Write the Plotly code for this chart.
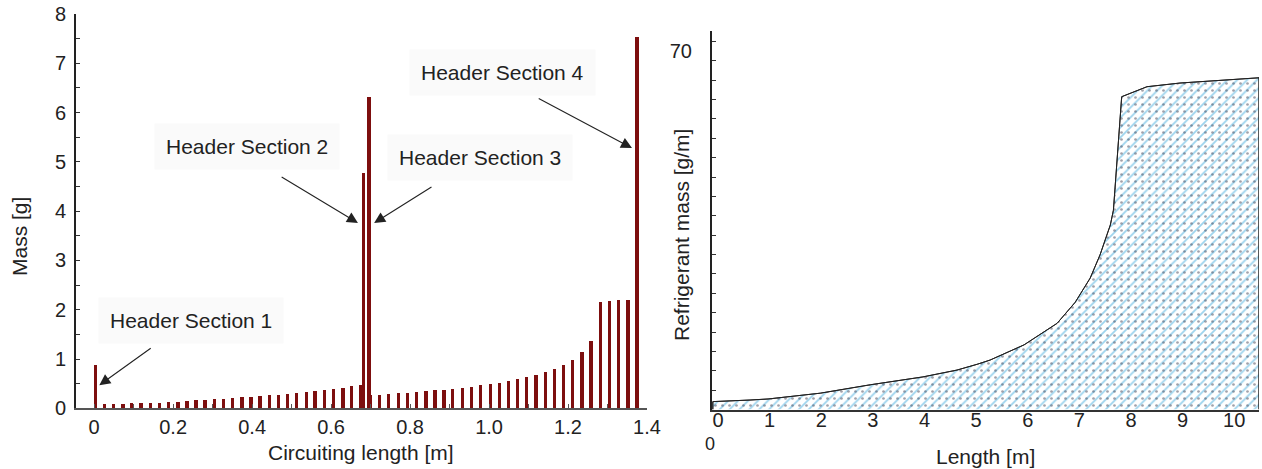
import plotly.graph_objects as go

# ---- Left chart: mass per element along circuit ----
circ_len = [0.003, 0.026, 0.049, 0.073, 0.095, 0.119, 0.142, 0.165, 0.188, 0.212,
            0.235, 0.258, 0.281, 0.305, 0.327, 0.351, 0.374, 0.397, 0.420, 0.444,
            0.467, 0.490, 0.513, 0.537, 0.559, 0.583, 0.606, 0.630, 0.652, 0.676,
            0.682, 0.696, 0.700,
            0.722, 0.746, 0.770, 0.793, 0.817, 0.840, 0.863, 0.886, 0.908, 0.932,
            0.955, 0.979, 1.003, 1.026, 1.050, 1.072, 1.095, 1.119, 1.143, 1.165,
            1.189, 1.212, 1.235, 1.258, 1.282, 1.305, 1.328, 1.352, 1.375]
mass_g = [0.87, 0.08, 0.08, 0.09, 0.10, 0.10, 0.11, 0.11, 0.12, 0.13,
          0.15, 0.16, 0.17, 0.18, 0.19, 0.21, 0.22, 0.23, 0.25, 0.26,
          0.28, 0.29, 0.31, 0.33, 0.35, 0.37, 0.39, 0.41, 0.45, 0.47,
          4.78, 6.32, 0.27,
          0.28, 0.29, 0.31, 0.32, 0.33, 0.35, 0.37, 0.38, 0.40, 0.41,
          0.44, 0.47, 0.49, 0.52, 0.56, 0.59, 0.63, 0.68, 0.74, 0.80,
          0.88, 0.99, 1.14, 1.37, 2.16, 2.18, 2.19, 2.20, 7.53]
left_xticks = [0, 0.2, 0.4, 0.6, 0.8, 1.0, 1.2, 1.4]
left_xticktext = ["0", "0.2", "0.4", "0.6", "0.8", "1.0", "1.2", "1.4"]
left_yticks = [0, 1, 2, 3, 4, 5, 6, 7, 8]

# header annotations: label, text pos (x, y), arrow tail (x, y), arrow tip (x, y)
header_labels = ["Header Section 1", "Header Section 2", "Header Section 3", "Header Section 4"]
header_text_xy = [(0.245, 1.79), (0.387, 5.32), (0.977, 5.08), (1.033, 6.82)]
header_tail_xy = [(0.147, 1.24), (0.471, 4.71), (0.858, 4.51), (1.122, 6.30)]
header_tip_xy = [(0.013, 0.47), (0.668, 3.76), (0.709, 3.76), (1.362, 5.28)]

# ---- Right chart: refrigerant mass distribution ----
length_m = [-0.1, -0.1, 0.62, 0.97, 1.98, 2.95, 3.97, 4.63, 5.02, 5.27, 5.93,
            6.38, 6.57, 6.92, 7.21, 7.40, 7.60, 7.66, 7.75, 7.82, 8.31, 8.95,
            10.48, 10.48]
refr_mass = [0.0, 1.5, 1.8, 2.0, 3.1, 4.7, 6.2, 7.5, 8.6, 9.4, 12.3,
             15.1, 16.4, 20.4, 25.0, 29.4, 35.1, 37.9, 49.3, 59.5, 61.4, 62.1,
             63.1, 0.0]
right_xticks = [0, 1, 2, 3, 4, 5, 6, 7, 8, 9, 10]
right_yticks = [70]

FONT = "Liberation Sans, Arial, Helvetica, sans-serif"
TXT = "#222222"
BAR = "#7d0e0e"

fig = go.Figure()

fig.add_trace(go.Bar(x=circ_len, y=mass_g, width=0.0085,
                     marker=dict(color=BAR, line=dict(width=0)),
                     xaxis="x", yaxis="y", showlegend=False))

fig.add_trace(go.Scatter(x=length_m, y=refr_mass, mode="lines", fill="toself",
                         line=dict(color="#222222", width=1),
                         fillcolor="rgba(0,0,0,0)",
                         fillpattern=dict(shape="/", fgcolor="#3aa7db", bgcolor="white",
                                          size=7, solidity=0.25),
                         xaxis="x2", yaxis="y2", showlegend=False))
fig.add_trace(go.Scatter(x=length_m, y=refr_mass, mode="lines", fill="toself",
                         line=dict(color="#222222", width=1),
                         fillcolor="rgba(0,0,0,0)",
                         fillpattern=dict(shape=".", fgcolor="#444455",
                                          size=7, solidity=0.12, fillmode="overlay"),
                         xaxis="x2", yaxis="y2", showlegend=False))

W, H = 1262, 469
def px_x(p):
    return p / W
def px_y(p):
    return 1 - p / H

fig.update_layout(
    width=W, height=H,
    margin=dict(l=0, r=0, t=0, b=0),
    paper_bgcolor="white", plot_bgcolor="white",
    font=dict(family=FONT, size=20, color=TXT),
    bargap=0,
    xaxis=dict(domain=[px_x(76), px_x(647)], range=[-0.046, 1.4], automargin=False,
               tickvals=left_xticks, ticktext=left_xticktext,
               ticks="inside", ticklen=4, tickcolor="#555",
               minor=dict(dtick=0.1, tick0=0, ticks="inside", ticklen=4, tickcolor="#555"),
               showline=True, linecolor="#555", linewidth=2,
               showgrid=False, zeroline=False,
               tickfont=dict(size=20), ticklabelstandoff=0),
    yaxis=dict(domain=[px_y(408.3), px_y(14)], range=[0, 8.0], automargin=False,
               tickvals=left_yticks,
               ticks="inside", ticklen=4, tickcolor="#333",
               minor=dict(dtick=0.5, tick0=0, ticks="inside", ticklen=4, tickcolor="#333"),
               showline=True, linecolor="#222", linewidth=2,
               showgrid=False, zeroline=False,
               tickfont=dict(size=20), ticklabelstandoff=4),
    xaxis2=dict(domain=[px_x(712), px_x(1259)], range=[-0.116, 10.48], automargin=False,
                anchor="y2", tickvals=right_xticks, ticks="", ticklen=0,
                showline=True, linecolor="#333", linewidth=2,
                showgrid=False, zeroline=False,
                tickfont=dict(size=20), ticklabelstandoff=-9),
    yaxis2=dict(domain=[px_y(409.5), px_y(31)], range=[0, 72], automargin=False,
                anchor="x2", tickvals=right_yticks, ticktext=["70"],
                ticks="inside", ticklen=4, tickcolor="#333",
                minor=dict(dtick=70 / 19, tick0=0, ticks="inside", ticklen=4, tickcolor="#333"),
                showline=True, linecolor="#222", linewidth=2,
                showgrid=False, zeroline=False,
                tickfont=dict(size=20), ticklabelstandoff=14, ticklabelshift=9),
)

# axis titles placed as in the reference
axis_titles = [("Circuiting length [m]", 361, 452, 0),
               ("Mass [g]", 20, 237, -90),
               ("Length [m]", 985, 456, 0),
               ("Refrigerant mass [g/m]", 681, 235, -90)]
for txt, x_, y_, ang in axis_titles:
    fig.add_annotation(x=px_x(x_), y=px_y(y_), xref="paper", yref="paper",
                       xanchor="center", yanchor="middle",
                       text=txt, showarrow=False, textangle=ang,
                       font=dict(size=21, color=TXT))

for lab, (tx, ty), (ax_, ay_), (hx, hy) in zip(header_labels, header_text_xy,
                                                 header_tail_xy, header_tip_xy):
    fig.add_annotation(x=tx, y=ty, xref="x", yref="y", text=lab, showarrow=False,
                       xanchor="center", yanchor="middle",
                       font=dict(size=21, color=TXT), bgcolor="#fafafa",
                       borderpad=11)
    fig.add_annotation(x=hx, y=hy, xref="x", yref="y", ax=ax_, ay=ay_,
                       axref="x", ayref="y", text="", showarrow=True,
                       arrowhead=2, arrowsize=2, arrowwidth=1.1, arrowcolor="#222")

# misplaced "0" label of right y axis (as in reference)
fig.add_annotation(x=px_x(710), y=px_y(444), xref="paper", yref="paper",
                   xanchor="center", yanchor="middle",
                   text="0", showarrow=False, font=dict(size=18, color=TXT))

fig.write_html("out.html", config={"displayModeBar": False},
               post_script="document.body.style.margin='0';")
